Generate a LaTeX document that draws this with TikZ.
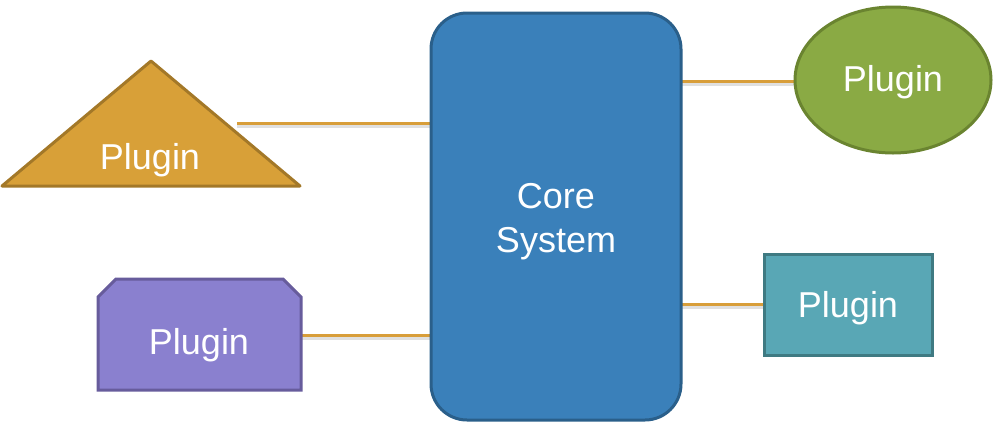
\documentclass[tikz,border=0pt]{standalone}
\usepackage{fontspec}
\setmainfont{Liberation Sans}
\usetikzlibrary{shapes.geometric}
\definecolor{coreFill}{HTML}{3A80BA}
\definecolor{coreLine}{HTML}{2A5F8A}
\definecolor{triFill}{HTML}{D8A038}
\definecolor{triLine}{HTML}{A37828}
\definecolor{octFill}{HTML}{8A80CF}
\definecolor{octLine}{HTML}{675C9C}
\definecolor{ellFill}{HTML}{8AAA44}
\definecolor{ellLine}{HTML}{6A8430}
\definecolor{boxFill}{HTML}{59A7B5}
\definecolor{boxLine}{HTML}{3F7A82}
\definecolor{wire}{HTML}{D89E3A}
\tikzset{
  label text/.style={text=white, font=\fontsize{36}{44}\selectfont, align=center},
  wireline/.style={draw=wire, line width=3pt},
  wireshadow/.style={draw=black, opacity=0.12, line width=4pt},
}
\begin{document}
\begin{tikzpicture}[x=1pt, y=-1pt]
  \useasboundingbox (0,0) rectangle (994,424);

  % connector end points
  \coordinate (tA) at (237,123);
  \coordinate (tB) at (431,123);
  \coordinate (pA) at (301,335);
  \coordinate (pB) at (431,335);
  \coordinate (eA) at (681,81);
  \coordinate (eB) at (795,81);
  \coordinate (bA) at (681,304);
  \coordinate (bB) at (763,304);

  % soft shadows of the connectors
  \foreach \a/\b in {tA/tB, pA/pB, eA/eB, bA/bB}
    \draw[wireshadow] ([yshift=-3pt]\a) -- ([yshift=-3pt]\b);
  \foreach \a/\b in {tA/tB, pA/pB, eA/eB, bA/bB}
    \draw[wireline] (\a) -- (\b);

  % core system
  \draw[fill=coreFill, draw=coreLine, line width=3pt, rounded corners=36pt]
    (431,13) rectangle (681,420);
  \node[label text] (core) at (556,222) {Core\\System};

  % triangle plugin
  \draw[fill=triFill, draw=triLine, line width=3pt, line join=round]
    (151,61) -- (300,186) -- (2,186) -- cycle;
  \node[label text] (tri) at (150,160) {Plugin};

  % clipped-corner plugin
  \draw[fill=octFill, draw=octLine, line width=3pt]
    (98,297) -- (116,279) -- (283,279) -- (301,297) -- (301,390) -- (98,390) -- cycle;
  \node[label text] (oct) at (199,345) {Plugin};

  % ellipse plugin
  \draw[fill=ellFill, draw=ellLine, line width=3pt] (893,80) ellipse (98pt and 73pt);
  \node[label text] (ell) at (893,82) {Plugin};

  % box plugin
  \draw[fill=boxFill, draw=boxLine, line width=3pt] (764,254) rectangle (932,355);
  \node[label text] (box) at (848,308) {Plugin};
\end{tikzpicture}
\end{document}
